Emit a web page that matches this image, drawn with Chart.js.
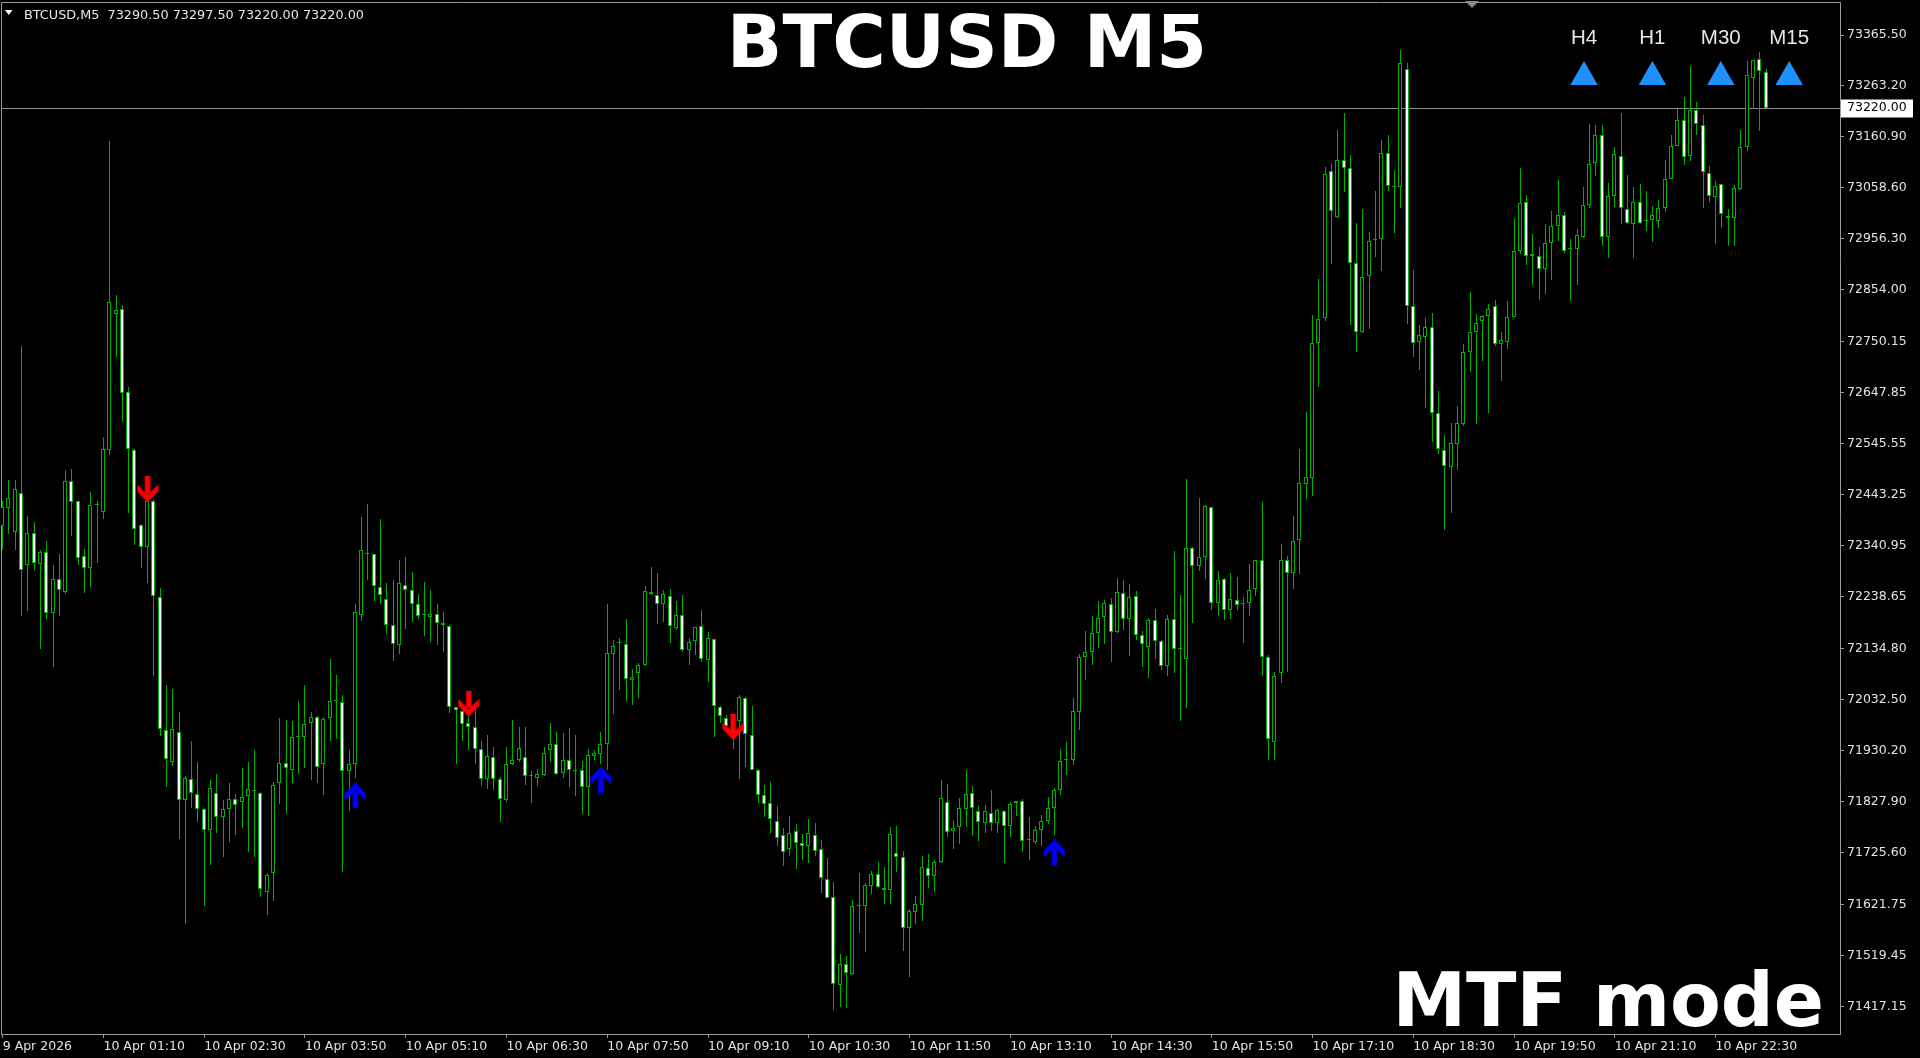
<!DOCTYPE html>
<html><head><meta charset="utf-8">
<script src="https://cdn.jsdelivr.net/npm/chart.js@4.4.1/dist/chart.umd.min.js"></script>
<style>html,body{margin:0;padding:0;background:#000;overflow:hidden}canvas{display:block}</style>
</head><body>
<canvas id="c" width="1920" height="1058"></canvas>
<script>
// ---------------- DATA ----------------
const symbol = 'BTCUSD';
const timeframe = 'M5';
const opens = [
72381,72417,72368,72446,72302,72367,72304,72329,72206,72275,
72249,72471,72430,72320,72297,72422,72408,72533,72805,72816,
72649,72533,72383,72338,72430,72239,71971,71908,71968,71830,
71873,71843,71812,71771,71844,71796,71812,71833,71827,71838,
71850,71844,71646,71684,71865,71906,71892,71958,71958,71985,
71998,71904,71995,72030,72027,71890,71903,72203,72325,72324,
72259,72235,72182,72142,72262,72252,72225,72202,72199,72205,
72185,72180,72017,72010,71986,71978,71933,71874,71918,71874,
71830,71904,71911,71918,71879,71876,71881,71932,71943,71886,
71911,71889,71891,71856,71919,71923,71943,72124,72145,72144,
72072,72085,72102,72249,72243,72224,72241,72175,72203,72132,
72150,72179,72112,72153,72018,71996,71988,71990,72035,71961,
71892,71840,71824,71789,71761,71732,71769,71745,71739,71761,
71732,71672,71637,71460,71501,71481,71619,71619,71659,71682,
71655,71650,71724,71716,71575,71607,71620,71695,71678,71707,
71826,71769,71776,71813,71844,71809,71785,71804,71784,71809,
71779,71824,71828,71750,71746,71771,71789,71814,71851,71911,
71912,72008,72118,72127,72165,72199,72224,72167,72247,72194,
72241,72162,72138,72191,72150,72100,72193,72134,72114,72337,
72300,72318,72418,72227,72275,72212,72232,72224,72227,72254,
72312,72117,71948,72085,72312,72286,72353,72464,72476,72747,
72798,73093,73000,73115,73098,72909,72770,72883,72954,72957,
73128,73063,73061,73297,72822,72749,72760,72780,72607,72533,
72498,72546,72585,72729,72770,72792,72802,72822,72745,72750,
72800,72932,73030,72926,72922,72897,72948,72982,73004,72936,
72937,72961,73024,73108,73165,72960,73043,73123,73016,72986,
73031,72993,72994,72993,73019,73077,73143,73195,73123,73216,
73184,73089,73041,73066,73002,72999,73057,73140,73279,73317,
73290.5];
const highs = [
72430,72473,72473,72741,72400,72389,72333,72351,72302,72324,
72493,72495,72432,72335,72448,72430,72560,73152,72843,72824,
72660,72535,72385,72457,72435,72257,72062,72054,72008,71879,
71949,71908,71814,71871,71884,71830,71865,71843,71895,71908,
71931,71846,71684,71868,71995,71992,71990,72030,72062,72008,
72000,71998,72114,72081,72041,71931,72225,72398,72425,72325,
72395,72267,72273,72312,72318,72289,72245,72269,72253,72224,
72209,72181,72018,72011,72011,72011,71949,71961,71938,71878,
71938,71991,71977,71978,71890,71894,71938,71985,71968,71966,
71975,71961,71910,71934,71931,71968,72225,72152,72155,72194,
72094,72105,72260,72298,72286,72252,72254,72231,72242,72155,
72178,72212,72167,72154,72020,72001,71998,72041,72037,72019,
71893,71861,71868,71819,71774,71799,71783,71763,71792,71784,
71751,71714,71667,71521,71518,71630,71684,71664,71688,71706,
71697,71776,71779,71729,71612,71638,71719,71723,71710,71871,
71864,71791,71834,71892,71859,71819,71820,71850,71812,71811,
71826,71829,71832,71797,71779,71801,71836,71854,71933,71947,
72036,72123,72169,72200,72231,72232,72237,72277,72273,72265,
72251,72170,72197,72215,72152,72202,72330,72242,72474,72338,
72436,72423,72419,72291,72276,72287,72279,72239,72304,72313,
72429,72121,72087,72344,72320,72401,72536,72610,72804,72876,
73101,73107,73174,73210,73125,72988,73016,72970,73053,73154,
73165,73095,73335,73310,72895,72784,72797,72808,72651,72564,
72588,72622,72746,72849,72806,72804,72826,72834,72769,72831,
72998,73098,73045,72966,72941,72986,73013,73075,73011,72956,
72976,73061,73186,73185,73185,73069,73141,73210,73085,73061,
73067,73053,73023,73034,73115,73164,73217,73242,73304,73232,
73205,73103,73073,73067,73016,73065,73175,73314,73316,73331,
73297.5];
const lows = [
72333,72365,72333,72201,72211,72292,72133,72194,72097,72201,
72244,72360,72302,72246,72259,72306,72394,72522,72720,72589,
72406,72343,72297,72266,72079,71960,71857,71900,71752,71582,
71814,71787,71619,71700,71765,71717,71746,71760,71774,71727,
71717,71636,71601,71628,71823,71803,71865,71884,71895,71871,
71865,71841,71949,71954,71687,71808,71876,72189,72273,72230,
72225,72163,72110,72124,72174,72187,72193,72160,72147,72142,
72128,72006,71903,71950,71932,71904,71859,71853,71851,71786,
71826,71901,71908,71861,71824,71858,71879,71908,71881,71876,
71856,71838,71802,71799,71911,71904,71891,72003,72051,72030,
72021,72035,72100,72242,72184,72187,72146,72172,72128,72102,
72122,72108,72068,71958,71985,71971,71934,71874,71898,71891,
71824,71797,71765,71739,71699,71719,71692,71710,71704,71719,
71644,71634,71410,71416,71413,71480,71565,71525,71642,71654,
71622,71622,71687,71529,71475,71583,71589,71655,71647,71704,
71757,71732,71742,71777,71759,71749,71764,71769,71765,71705,
71756,71799,71727,71710,71743,71739,71782,71761,71841,71881,
71901,71971,72072,72102,72135,72144,72108,72165,72172,72120,
72152,72097,72076,72113,72092,72080,72086,71989,72016,72185,
72291,72275,72212,72201,72192,72193,72212,72145,72201,72240,
72080,71911,71911,72066,72088,72255,72284,72434,72441,72660,
72792,72906,72999,73051,72784,72730,72767,72776,72921,72892,
73053,72968,73019,72786,72720,72693,72617,72550,72525,72373,
72407,72493,72582,72689,72586,72712,72608,72741,72672,72735,
72799,72927,72904,72864,72833,72846,72875,72953,72929,72832,
72863,72959,73018,73083,72942,72919,73021,72986,72986,72919,
72986,72973,72950,72978,73011,73076,73142,73105,73113,73165,
73019,73031,72946,72978,72943,72942,73055,73133,73218,73173,
73220];
const closes = [
72419,72437,72455,72292,72367,72306,72329,72206,72275,72252,
72471,72428,72316,72297,72422,72424,72535,72830,72814,72648,
72536,72374,72338,72430,72241,71973,71913,71973,71830,71876,
71844,71812,71771,71855,71796,71813,71833,71821,71836,71852,
71849,71652,71681,71860,71906,71895,71958,71958,71984,71998,
71898,71994,72030,72030,71890,71903,72208,72333,72325,72260,
72243,72182,72143,72267,72252,72225,72201,72202,72205,72185,
72181,72017,72011,71983,71977,71933,71874,71919,71874,71832,
71904,71912,71936,71880,71879,71884,71926,71943,71884,71911,
71891,71889,71856,71921,71926,71944,72126,72140,72145,72074,
72078,72102,72251,72244,72224,72245,72179,72202,72132,72148,
72177,72113,72155,72019,72000,71979,71968,72038,71963,71892,
71841,71823,71792,71755,71726,71765,71745,71739,71764,71729,
71674,71635,71461,71501,71483,71619,71619,71660,71682,71656,
71650,71762,71717,71575,71609,71622,71696,71678,71706,71834,
71767,71775,71814,71843,71814,71787,71809,71784,71811,71779,
71823,71828,71749,71750,71771,71789,71814,71850,71910,71914,
72009,72118,72127,72165,72197,72227,72167,72249,72194,72239,
72162,72144,72191,72150,72100,72194,72133,72134,72337,72300,
72318,72421,72227,72272,72212,72235,72223,72224,72253,72312,
72117,71953,72080,72312,72286,72351,72467,72478,72747,72795,
73086,73013,73115,73099,72909,72770,72881,72952,72954,73128,
73063,73061,73309,72822,72748,72764,72780,72608,72535,72500,
72548,72588,72730,72770,72788,72802,72815,72745,72754,72800,
72932,73028,72922,72922,72897,72948,72982,73004,72933,72936,
72964,73024,73106,73165,72961,73043,73126,73018,72988,73031,
72988,72993,73004,73019,73077,73143,73195,73121,73216,73186,
73090,73043,73063,73006,72999,73058,73140,73285,73315,73293,
73220];
const tickIdx = [0,16,32,48,64,80,96,112,128,144,160,176,192,208,224,240,256,272];
const tickLabels = ['9 Apr 2026','10 Apr 01:10','10 Apr 02:30','10 Apr 03:50','10 Apr 05:10','10 Apr 06:30',
  '10 Apr 07:50','10 Apr 09:10','10 Apr 10:30','10 Apr 11:50','10 Apr 13:10','10 Apr 14:30','10 Apr 15:50',
  '10 Apr 17:10','10 Apr 18:30','10 Apr 19:50','10 Apr 21:10','10 Apr 22:30'];
const yTickValues = [73365.50,73263.20,73160.90,73058.60,72956.30,72854.00,72750.15,72647.85,72545.55,72443.25,
  72340.95,72238.65,72134.80,72032.50,71930.20,71827.90,71725.60,71621.75,71519.45,71417.15];
const sellIdx = [23, 74, 116];
const sellPrice = [72454, 72024, 71977];
const buyIdx = [56, 95, 167];
const buyPrice = [71840, 71872, 71726];
const mtfLabels = ['H4','H1','M30','M15'];
const mtfUp = [true, true, true, true];
const lastBar = {o: 73290.50, h: 73297.50, l: 73220.00, c: 73220.00};
const currentPrice = 73220.00;
const yMin = 71361.5, yMax = 73431.7;
const xMin = -0.27, xMax = 291.75;

// ---------------- STYLE ----------------
const GREEN = '#00b000';
const AXIS = '#9a9a9a';
const TXT = '#e2e2e2';
const FONT = 'DejaVu Sans';

function makeArrow(color, up) {
  const w = 22, h = 26;
  const c = document.createElement('canvas'); c.width = w; c.height = h;
  const g = c.getContext('2d');
  g.fillStyle = color;
  g.translate(w / 2, 0);
  if (up) { g.translate(0, h); g.scale(1, -1); }
  g.fillRect(-2.7, 0, 5.4, 17);
  g.beginPath();
  g.moveTo(-10.5, 8); g.lineTo(0, 18.5); g.lineTo(10.5, 8); g.lineTo(10.5, 15);
  g.lineTo(0, 26); g.lineTo(-10.5, 15); g.closePath();
  g.fill();
  return c;
}

const idx = closes.map((_, i) => i);
const wickData = idx.map(i => ({x: i, y: [lows[i], highs[i]]}));
const bodyData = idx.map(i => ({x: i, y: [opens[i], closes[i]]}));
const bodyFill = idx.map(i => closes[i] < opens[i] ? '#ffffff' : '#000000');

// pixel snapping of the bar elements computed by the scales (crisp 1px lines like the terminal)
const snap = {
  id: 'snap',
  afterDatasetsUpdate(chart) {
    [0, 1].forEach(di => {
      const meta = chart.getDatasetMeta(di);
      meta.data.forEach(el => {
        const cx = Math.floor(el.x);
        el.x = di === 0 ? cx + 0.5 : cx;
        let y = Math.round(el.y), b = Math.round(el.base);
        if (Math.abs(y - b) < 1) y = b - 1;
        el.y = y; el.base = b;
      });
    });
  }
};

const deco = {
  id: 'deco',
  beforeDraw(chart) {
    const ctx = chart.ctx;
    ctx.save(); ctx.fillStyle = '#000'; ctx.fillRect(0, 0, chart.width, chart.height); ctx.restore();
  },
  beforeDatasetsDraw(chart) {
    const {ctx, chartArea: a, scales: {y}} = chart;
    ctx.save();
    ctx.strokeStyle = AXIS; ctx.lineWidth = 1;
    ctx.beginPath();
    ctx.moveTo(a.left + 0.5, a.bottom); ctx.lineTo(a.left + 0.5, a.top + 0.5); ctx.lineTo(a.right, a.top + 0.5);
    ctx.stroke();
    const py = Math.round(y.getPixelForValue(currentPrice)) + 0.5;
    ctx.strokeStyle = '#8e8e8e';
    ctx.beginPath(); ctx.moveTo(a.left, py); ctx.lineTo(a.right, py); ctx.stroke();
    ctx.restore();
  },
  afterDraw(chart) {
    const {ctx, chartArea: a, scales: {y}} = chart;
    ctx.save();
    // price box
    const py = y.getPixelForValue(currentPrice);
    ctx.fillStyle = '#ffffff';
    ctx.fillRect(a.right + 1, Math.round(py) - 8.5, 72, 18);
    ctx.fillStyle = '#000000';
    ctx.font = '12.5px "' + FONT + '"';
    ctx.textBaseline = 'middle'; ctx.textAlign = 'left';
    ctx.fillText(currentPrice.toFixed(2), a.right + 7, py + 0.5);
    // header
    ctx.fillStyle = '#ffffff';
    ctx.beginPath(); ctx.moveTo(5, 10); ctx.lineTo(12.5, 10); ctx.lineTo(8.75, 15); ctx.closePath(); ctx.fill();
    ctx.fillStyle = '#e8e8e8';
    ctx.font = '12.8px "' + FONT + '"';
    ctx.textBaseline = 'alphabetic';
    ctx.fillText(symbol + ',' + timeframe + '  ' + [lastBar.o, lastBar.h, lastBar.l, lastBar.c].map(v => v.toFixed(2)).join(' '), 24, 19);
    // shift marker
    ctx.fillStyle = '#8a8a8a';
    ctx.beginPath(); ctx.moveTo(1465, 1); ctx.lineTo(1479, 1); ctx.lineTo(1472, 8); ctx.closePath(); ctx.fill();
    // title
    ctx.fillStyle = '#ffffff';
    ctx.font = 'bold 73px "' + FONT + '"';
    ctx.textAlign = 'center';
    ctx.fillText(symbol + ' ' + timeframe, 967, 67);
    ctx.textAlign = 'right';
    ctx.font = 'bold 74px "' + FONT + '"';
    ctx.fillText('MTF mode', 1824, 1026);
    // MTF panel
    ctx.textAlign = 'center';
    ctx.font = '20.5px "Liberation Sans"';
    mtfLabels.forEach((lab, k) => {
      const cx = 1584 + k * 68.4;
      ctx.fillStyle = '#e6e6e6';
      ctx.fillText(lab, cx, 44.3);
      ctx.fillStyle = '#1e90ff';
      ctx.beginPath();
      if (mtfUp[k]) { ctx.moveTo(cx, 61); ctx.lineTo(cx + 13.7, 85); ctx.lineTo(cx - 13.7, 85); }
      else { ctx.moveTo(cx, 85); ctx.lineTo(cx + 13.7, 61); ctx.lineTo(cx - 13.7, 61); }
      ctx.closePath(); ctx.fill();
    });
    ctx.restore();
  }
};

new Chart(document.getElementById('c'), {
  type: 'bar',
  data: {
    datasets: [
      {label: 'wick', data: wickData, backgroundColor: GREEN, borderWidth: 0, grouped: false,
        maxBarThickness: 1, barPercentage: 1, categoryPercentage: 1, inflateAmount: 0, order: 2},
      {label: 'body', data: bodyData, backgroundColor: bodyFill, borderColor: GREEN, borderWidth: 1,
        borderSkipped: false, grouped: false, maxBarThickness: 4, barPercentage: 1, categoryPercentage: 1,
        minBarLength: 1, inflateAmount: 0, order: 1},
      {type: 'scatter', label: 'sell', data: sellIdx.map((x, k) => ({x, y: sellPrice[k]})),
        pointStyle: makeArrow('#ff0000', false), pointRadius: 1, clip: false, order: 0},
      {type: 'scatter', label: 'buy', data: buyIdx.map((x, k) => ({x, y: buyPrice[k]})),
        pointStyle: makeArrow('#0000ff', true), pointRadius: 1, clip: false, order: 0}
    ]
  },
  options: {
    responsive: false, animation: false, devicePixelRatio: 1,
    layout: {autoPadding: false, padding: {top: 2, left: 1, right: 0, bottom: 0}},
    plugins: {legend: {display: false}, tooltip: {enabled: false}},
    events: [],
    scales: {
      x: {
        type: 'linear', min: xMin, max: xMax, offset: false, bounds: 'data',
        afterBuildTicks: s => { s.ticks = tickIdx.map(v => ({value: v})); },
        afterFit: s => { s.height = 24; s.paddingLeft = 0; s.paddingRight = 0; },
        ticks: {color: TXT, font: {family: FONT, size: 12.5}, align: 'start', maxRotation: 0, minRotation: 0,
          autoSkip: false, padding: 1, callback: (v, i) => tickLabels[i]},
        grid: {drawOnChartArea: false, drawTicks: true, tickLength: 4, color: AXIS, offset: false},
        border: {display: true, color: AXIS}
      },
      y: {
        type: 'linear', position: 'right', min: yMin, max: yMax, bounds: 'data', beginAtZero: false,
        afterBuildTicks: s => { s.ticks = yTickValues.map(v => ({value: v})); },
        afterFit: s => { s.width = 80; s.paddingTop = 0; s.paddingBottom = 0; },
        ticks: {color: TXT, font: {family: FONT, size: 12.5}, padding: 3, autoSkip: false,
          callback: v => Number(v).toFixed(2)},
        grid: {drawOnChartArea: false, drawTicks: true, tickLength: 4, color: AXIS},
        border: {display: true, color: AXIS}
      }
    }
  },
  plugins: [snap, deco]
});
</script>
</body></html>
